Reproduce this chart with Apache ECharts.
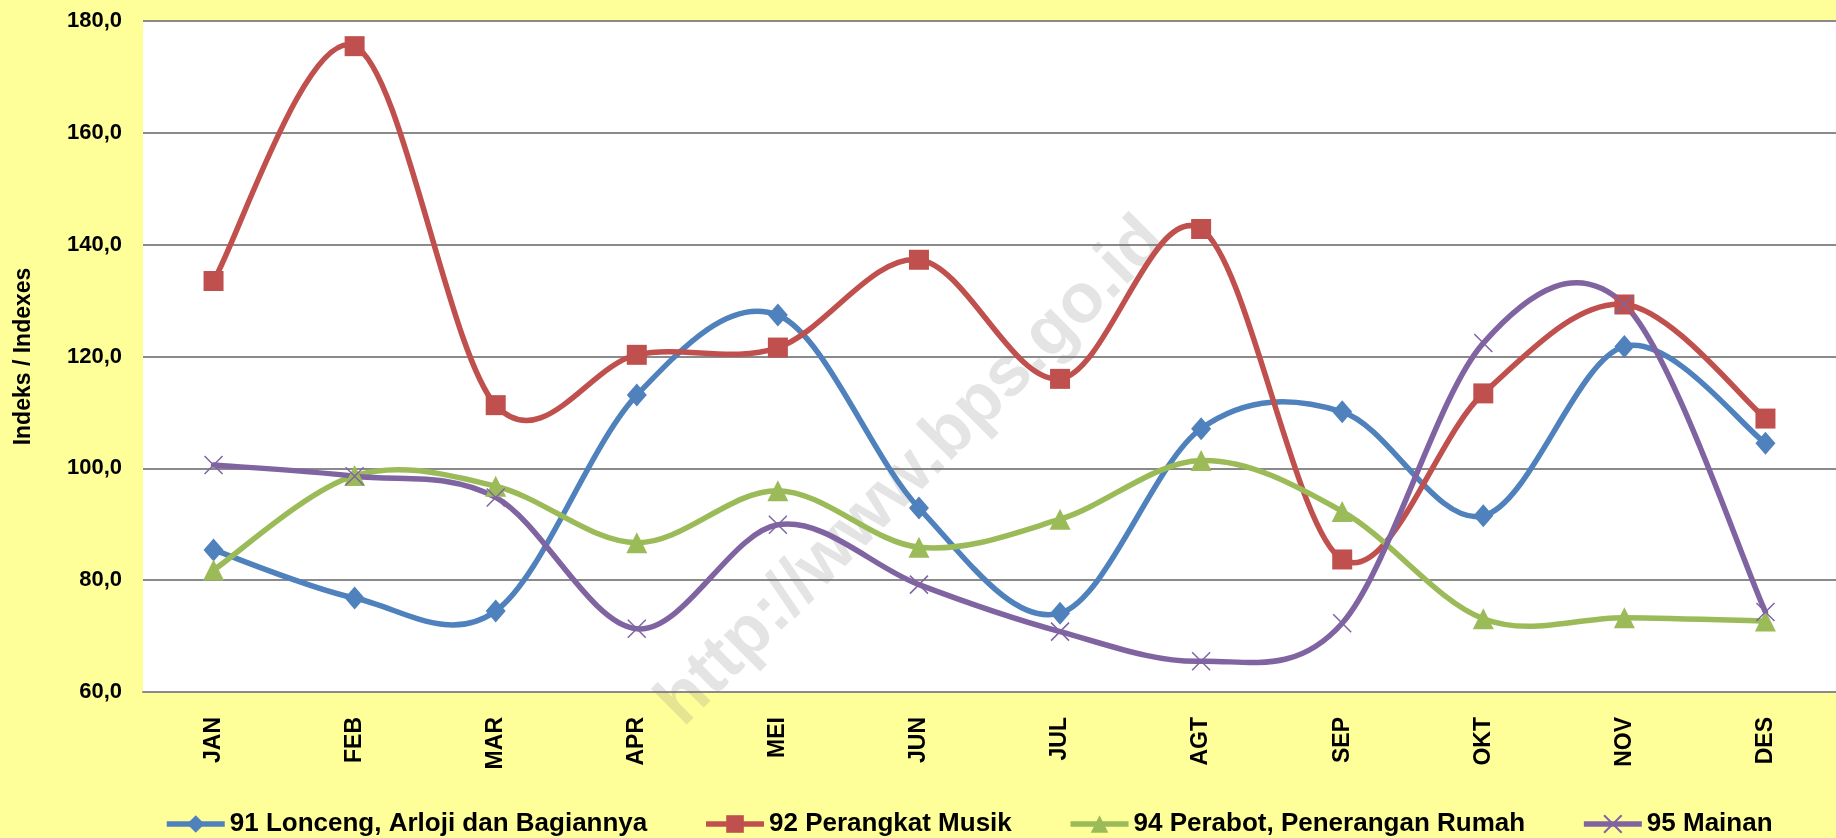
<!DOCTYPE html>
<html>
<head>
<meta charset="utf-8">
<script src="https://cdn.jsdelivr.net/npm/echarts@6/dist/echarts.min.js"></script>
<style>
html,body{margin:0;padding:0;background:#FFFF99;}
#chart{width:1836px;height:838px;}
</style>
</head>
<body>
<div id="chart"></div>
<script>
const months = ['JAN','FEB','MAR','APR','MEI','JUN','JUL','AGT','SEP','OKT','NOV','DES'];
const names = ['91 Lonceng, Arloji dan Bagiannya','92 Perangkat Musik','94 Perabot, Penerangan Rumah','95 Mainan'];
const s91 = [85.4, 76.8, 74.5, 113.1, 127.4, 92.9, 74.1, 107.1, 110.1, 91.5, 121.8, 104.5];
const s92 = [133.5, 175.5, 111.3, 120.3, 121.6, 137.3, 116.0, 142.8, 83.7, 113.4, 129.3, 108.9];
const s94 = [81.8, 98.7, 96.8, 86.7, 96.0, 85.9, 90.9, 101.4, 92.3, 73.1, 73.3, 72.7];
const s95 = [100.6, 98.6, 94.8, 71.3, 89.9, 79.2, 70.8, 65.5, 72.3, 122.4, 129.3, 74.3];
const yName = 'Indeks / Indexes';
const watermark = 'http://www.bps.go.id';

const FONT = "'Liberation Sans', Arial, sans-serif";
const colors = ['#4F81BD', '#C0504D', '#9BBB59', '#8064A2'];
const crossPath = 'path://M0,0L10,10M10,0L0,10';
const LINE_W = 5.5;

// Marker series (line itself hidden; curve drawn by custom series below)
function markers(name, data, color, symbol, size, extra) {
  return Object.assign({
    name: name,
    type: 'line',
    data: data,
    symbol: symbol,
    symbolSize: size,
    showAllSymbol: true,
    color: color,
    lineStyle: { width: LINE_W, color: color, opacity: 0 },
    itemStyle: { color: color },
    z: 4
  }, extra || {});
}

// Excel-like smoothed curve (Catmull-Rom) through points mapped by the chart's own axes
function curve(name, data, color) {
  return {
    name: name + ' (curve)',
    type: 'custom',
    data: [[0, data[0]]],
    z: 3,
    silent: true,
    renderItem: function (params, api) {
      const pts = data.map((v, i) => api.coord([i, v]));
      let d = 'M' + pts[0][0] + ',' + pts[0][1];
      for (let i = 0; i < pts.length - 1; i++) {
        const p0 = pts[i - 1] || pts[i];
        const p1 = pts[i];
        const p2 = pts[i + 1];
        const p3 = pts[i + 2] || pts[i + 1];
        const c1x = p1[0] + (p2[0] - p0[0]) / 6, c1y = p1[1] + (p2[1] - p0[1]) / 6;
        const c2x = p2[0] - (p3[0] - p1[0]) / 6, c2y = p2[1] - (p3[1] - p1[1]) / 6;
        d += ' C' + c1x + ',' + c1y + ' ' + c2x + ',' + c2y + ' ' + p2[0] + ',' + p2[1];
      }
      return {
        type: 'path',
        shape: { pathData: d },
        style: { fill: 'none', stroke: color, lineWidth: LINE_W, lineJoin: 'round', lineCap: 'round' }
      };
    }
  };
}

const chart = echarts.init(document.getElementById('chart'));
chart.setOption({
  backgroundColor: '#FFFF99',
  animation: false,
  grid: {
    left: 143, right: 0, top: 21, bottom: 146,
    show: true, backgroundColor: '#ffffff', borderWidth: 0
  },
  legend: {
    left: 159, top: 806,
    itemWidth: 58, itemHeight: 22, itemGap: 56,
    lineStyle: { width: LINE_W, opacity: 1 },
    textStyle: { fontFamily: FONT, fontWeight: 'bold', fontSize: 26, color: '#000' },
    data: names
  },
  xAxis: {
    type: 'category',
    data: months,
    boundaryGap: true,
    axisLine: { show: true, lineStyle: { color: '#8a8a8a', width: 2 } },
    axisTick: { show: false },
    axisLabel: {
      rotate: 90, margin: 25, interval: 0,
      fontFamily: FONT, fontWeight: 'bold', fontSize: 23, color: '#000'
    }
  },
  yAxis: {
    type: 'value',
    min: 60, max: 180, interval: 20,
    name: yName,
    nameLocation: 'middle',
    nameGap: 108,
    nameRotate: 90,
    nameTextStyle: { fontFamily: FONT, fontWeight: 'bold', fontSize: 23, color: '#000' },
    axisLine: { show: false },
    axisTick: { show: false },
    splitLine: { show: true, lineStyle: { color: '#8a8a8a', width: 2 } },
    axisLabel: {
      margin: 21,
      fontFamily: FONT, fontWeight: 'bold', fontSize: 22, color: '#000',
      formatter: v => v.toFixed(1).replace('.', ',')
    }
  },
  graphic: [{
    type: 'text',
    x: 912, y: 472,
    rotation: Math.PI / 4,
    z: 1,
    style: {
      text: watermark,
      font: "bold 70px 'Liberation Sans', Arial, sans-serif",
      fill: 'rgba(120,120,120,0.2)',
      align: 'center',
      verticalAlign: 'middle'
    }
  }],
  series: [
    curve(names[0], s91, colors[0]),
    curve(names[1], s92, colors[1]),
    curve(names[2], s94, colors[2]),
    curve(names[3], s95, colors[3]),
    markers(names[0], s91, colors[0], 'diamond', [20, 23]),
    markers(names[1], s92, colors[1], 'rect', 20),
    markers(names[2], s94, colors[2], 'triangle', 21),
    markers(names[3], s95, colors[3], crossPath, 18, {
      itemStyle: { color: colors[3], borderColor: colors[3], borderWidth: 1.5 }
    })
  ]
});
</script>
</body>
</html>
